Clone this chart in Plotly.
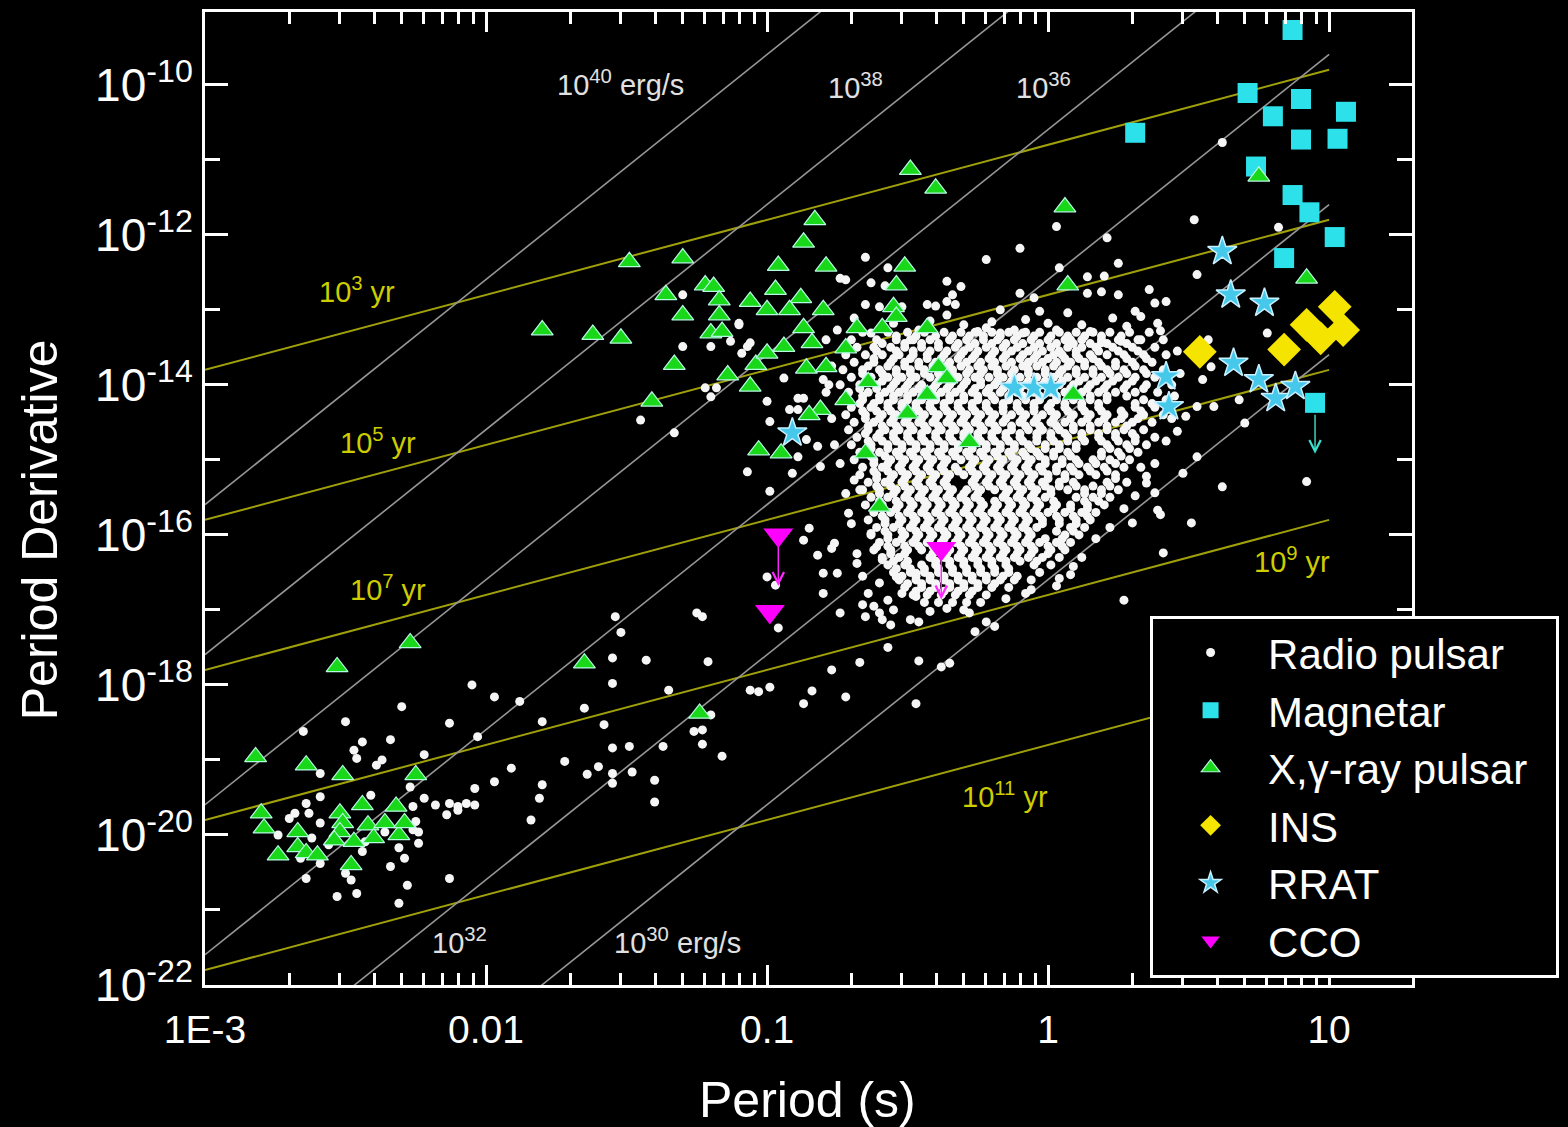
import math
import plotly.graph_objects as go

# ---------------------------------------------------------------------------
# Data: (log10 P [s], log10 Pdot)
# ---------------------------------------------------------------------------

# Radio pulsars - recycled / millisecond population (lower left)
radio_msp = [
    (-1.55, -17.64), (-1.43, -17.67), (-1.55, -17.98), (-2.05, -18.00), (-1.97, -18.16),
    (-1.88, -18.22), (-2.30, -18.29), (-1.65, -18.31), (-2.13, -18.51), (-2.50, -18.49),
    (-1.80, -18.49), (-1.58, -18.53), (-2.65, -18.62), (-2.03, -18.69), (-2.34, -18.73),
    (-2.44, -18.76), (-1.55, -18.84), (-1.49, -18.82), (-2.47, -18.87), (-2.46, -18.98),
    (-2.37, -19.00), (-2.22, -18.93), (-1.72, -19.02), (-2.39, -19.07), (-1.91, -19.11),
    (-1.60, -19.09), (-1.64, -19.19), (-1.55, -19.18), (-1.48, -19.16), (-2.59, -19.18),
    (-1.97, -19.29), (-1.55, -19.31), (-2.04, -19.38), (-1.80, -19.33), (-2.27, -19.36),
    (-2.59, -19.49), (-2.41, -19.47), (-1.81, -19.51), (-2.22, -19.51), (-2.64, -19.58),
    (-2.18, -19.60), (-2.13, -19.58), (-2.10, -19.62), (-2.07, -19.58), (-2.04, -19.60),
    (-2.26, -19.62), (-2.63, -19.71), (-2.68, -19.71), (-2.70, -19.78), (-2.14, -19.73),
    (-2.10, -19.67), (-2.59, -19.84), (-2.74, -20.00), (-2.24, -19.96), (-2.25, -19.82),
    (-1.84, -19.80), (-2.24, -20.11), (-2.44, -20.22), (-2.29, -20.31), (-2.34, -20.42),
    (-2.59, -20.38), (-2.50, -20.51), (-2.48, -20.60), (-2.64, -20.58), (-2.13, -20.58),
    (-2.46, -20.78), (-2.53, -20.82), (-2.28, -20.67), (-2.31, -20.91), (-2.52, -19.93),
    (-2.43, -20.09), (-2.36, -19.96), (-2.31, -20.17), (-2.56, -20.13), (-2.62, -20.04),
    (-2.66, -20.31), (-2.26, -19.93),
]

# Radio pulsars - intermediate / bridge region
radio_mid = [
    (-1.45, -14.47), (-1.54, -17.09), (-1.52, -17.30), (-1.25, -17.04), (-1.23, -17.09),
    (-0.96, -17.24), (-1.21, -17.69), (-1.35, -18.07), (-1.37, -18.82), (-1.40, -19.27),
    (-1.40, -19.56), (-1.20, -18.40), (-1.26, -18.62), (-1.23, -18.60), (-1.23, -18.79),
    (-1.16, -18.95), (-1.06, -18.07), (-1.03, -18.09), (-0.99, -18.03), (-0.87, -18.25),
    (-0.84, -18.08), (-0.77, -17.80), (-0.72, -18.16), (-0.67, -17.70), (-0.57, -17.50),
    (-0.46, -17.68), (-0.47, -18.25), (-0.38, -17.76), (-0.35, -17.71), (-0.74, -17.04),
    (-0.66, -16.93), (-0.65, -17.09), (-0.60, -17.04), (-0.59, -17.13), (-0.56, -17.20),
    (-0.46, -17.16), (-0.26, -17.29), (-0.22, -17.16), (-0.19, -17.22), (-0.30, -17.00),
    (-0.28, -17.04), (0.27, -16.87),
]

# Radio pulsars - scattered normal pulsars around the main cloud
radio_field = [
    (0.92, -15.29), (0.62, -15.36), (0.51, -15.84), (0.41, -16.24), (0.39, -15.67),
    (0.40, -15.73), (0.70, -14.51), (0.53, -14.96), (0.59, -14.29), (0.53, -14.29),
    (0.49, -14.42), (0.55, -13.93), (0.58, -13.76), (0.78, -13.31), (0.57, -13.40),
    (0.46, -14.62), (0.48, -15.18), (0.30, -15.84), (0.38, -15.44), (0.35, -15.31),
    (0.08, -16.53), (0.04, -16.58), (-0.06, -16.73), (0.68, -14.20),
    (0.62, -10.77), (0.52, -11.80), (0.82, -11.90), (0.21, -12.04), (0.25, -12.38),
    (0.03, -11.89), (0.04, -12.44), (0.14, -12.56), (0.20, -12.55), (0.53, -12.53),
    (0.36, -12.73), (0.14, -12.78), (0.19, -12.76), (0.25, -12.80), (0.38, -12.91),
    (0.42, -12.89), (0.07, -13.04), (0.23, -13.11), (0.31, -13.02), (0.33, -13.09),
    (0.39, -13.18), (0.03, -13.27), (0.08, -13.40), (0.15, -13.29), (0.19, -13.44),
    (0.26, -13.42), (0.32, -13.40),
    (-0.10, -12.18), (-0.22, -12.33), (-0.65, -12.30), (-0.74, -12.58), (-0.72, -12.60),
    (-0.63, -12.64), (-0.57, -12.44), (-0.58, -12.68), (-0.36, -12.62), (-0.31, -12.69),
    (-0.34, -12.80), (-0.36, -12.89), (-0.33, -12.93), (-0.43, -12.93), (-0.40, -12.95),
    (-0.65, -12.93), (-0.60, -12.96), (-0.69, -13.11), (-0.52, -12.96), (-0.36, -13.07),
    (-0.10, -12.78), (-0.05, -12.84), (-0.03, -13.02), (-0.17, -13.00), (-0.08, -13.13),
    (-0.30, -13.20), (-0.25, -13.29), (-0.22, -13.24), (-0.17, -13.31), (-0.12, -13.27),
    (-0.09, -13.31), (-1.30, -12.80), (-1.10, -13.18), (-0.75, -13.27), (-0.79, -13.40),
    (-0.49, -13.40), (-0.46, -13.27), (-0.63, -13.31), (-0.35, -13.40), (-1.30, -13.49),
    (-1.20, -13.49), (-1.07, -13.49),
    (-1.10, -13.20), (-1.13, -13.42), (-1.09, -13.58), (-1.06, -13.44), (-1.22, -14.04),
    (-1.20, -14.16), (-1.18, -14.04), (-1.33, -14.64), (-1.00, -14.22), (-0.94, -13.91),
    (-0.99, -14.49), (-0.89, -14.18), (-0.92, -14.33), (-0.89, -14.33), (-0.87, -14.18),
    (-0.80, -13.93), (-0.78, -14.00), (-1.07, -15.16), (-0.99, -15.42), (-0.91, -15.18),
    (-0.89, -14.96), (-0.86, -14.73), (-0.82, -14.82), (-0.81, -15.09), (-0.85, -15.91),
    (-0.87, -16.07), (-0.77, -16.18), (-0.76, -16.11), (-0.82, -16.27), (-0.68, -16.38),
    (-0.80, -16.51), (-0.75, -16.51), (-0.80, -16.78), (-1.00, -16.56), (-0.97, -16.67),
    (-0.69, -15.27), (-0.67, -15.40), (-0.71, -15.71), (-0.63, -15.98), (-0.61, -16.16),
    (-0.59, -16.33), (-0.64, -16.78), (-0.60, -16.64), (-0.57, -16.87), (-0.49, -17.13),
    (-0.47, -16.82), (-0.52, -16.78), (-0.54, -16.56), (-0.47, -16.51),
    # ragged rim of the main cloud
    (0.46, -13.55), (0.47, -13.85), (0.45, -14.15), (0.44, -14.45), (0.42, -14.75),
    (0.38, -15.05), (0.35, -15.22), (0.31, -15.48), (0.27, -15.65), (0.22, -15.90),
    (0.17, -16.05), (0.12, -16.30), (0.09, -16.42), (0.03, -16.68),
    (-0.77, -13.75), (-0.79, -14.10), (-0.77, -14.45), (-0.76, -14.80), (-0.74, -15.05),
    (-0.72, -15.45), (-0.70, -15.85), (-0.68, -16.25), (-0.66, -16.55), (-0.62, -16.95),
    (-0.55, -17.00), (-0.42, -17.02), (-0.36, -16.98), (-0.24, -16.90), (-0.15, -16.85),
    (-0.08, -16.78), (-0.55, -13.18), (-0.42, -13.15), (-0.20, -13.16), (0.00, -13.18),
    (0.12, -13.20), (0.28, -13.22), (0.40, -13.28),
]

# Radio pulsars - dense main cloud, one row per log10 Pdot value
radio_core_rows = [
    (-13.30, [-0.66, -0.57, -0.50, -0.44, -0.37, -0.31, -0.26, -0.20, -0.14, -0.08, -0.03, 0.04, 0.10, 0.16, 0.22, 0.29, 0.36]),
    (-13.35, [-0.54, -0.47, -0.40, -0.34, -0.28, -0.23, -0.17, -0.11, -0.05, 0.01, 0.07, 0.13, 0.19, 0.26]),
    (-13.40, [-0.70, -0.61, -0.54, -0.48, -0.42, -0.35, -0.29, -0.23, -0.18, -0.12, -0.06, 0.00, 0.06, 0.12, 0.19, 0.25, 0.33, 0.41]),
    (-13.45, [-0.59, -0.51, -0.45, -0.39, -0.32, -0.26, -0.20, -0.15, -0.09, -0.03, 0.03, 0.09, 0.15, 0.21, 0.28]),
    (-13.50, [-0.68, -0.62, -0.56, -0.51, -0.45, -0.39, -0.33, -0.28, -0.22, -0.16, -0.11, -0.05, 0.01, 0.07, 0.12, 0.17, 0.23, 0.30, 0.38]),
    (-13.55, [-0.61, -0.54, -0.48, -0.42, -0.36, -0.30, -0.25, -0.19, -0.13, -0.07, -0.02, 0.04, 0.10, 0.18, 0.25, 0.32]),
    (-13.60, [-0.72, -0.65, -0.59, -0.53, -0.48, -0.43, -0.37, -0.31, -0.26, -0.20, -0.15, -0.09, -0.04, 0.02, 0.05, 0.10, 0.15, 0.21, 0.27, 0.34, 0.42]),
    (-13.65, [-0.62, -0.55, -0.49, -0.43, -0.38, -0.32, -0.27, -0.21, -0.16, -0.10, -0.05, 0.00, 0.06, 0.11, 0.16, 0.28, 0.35]),
    (-13.70, [-0.69, -0.62, -0.56, -0.51, -0.46, -0.40, -0.35, -0.29, -0.24, -0.19, -0.13, -0.07, -0.02, 0.03, 0.08, 0.13, 0.18, 0.24, 0.30, 0.37]),
    (-13.75, [-0.64, -0.57, -0.51, -0.46, -0.41, -0.36, -0.31, -0.25, -0.20, -0.15, -0.09, -0.04, 0.02, 0.07, 0.13, 0.19, 0.24, 0.31]),
    (-13.80, [-0.73, -0.66, -0.60, -0.54, -0.49, -0.44, -0.39, -0.34, -0.28, -0.23, -0.18, -0.12, -0.07, -0.01, 0.05, 0.10, 0.16, 0.21, 0.27, 0.34, 0.41]),
    (-13.85, [-0.66, -0.59, -0.54, -0.49, -0.44, -0.39, -0.34, -0.29, -0.24, -0.18, -0.13, -0.07, -0.01, 0.04, 0.10, 0.16, 0.22, 0.28, 0.35]),
    (-13.90, [-0.70, -0.63, -0.57, -0.52, -0.47, -0.42, -0.37, -0.32, -0.26, -0.21, -0.16, -0.10, -0.04, 0.02, 0.07, 0.13, 0.19, 0.25, 0.31, 0.38]),
    (-13.95, [-0.65, -0.59, -0.54, -0.49, -0.39, -0.34, -0.29, -0.24, -0.18, -0.13, -0.07, -0.01, 0.05, 0.11, 0.17, 0.23, 0.30]),
    (-14.00, [-0.74, -0.67, -0.61, -0.55, -0.50, -0.45, -0.40, -0.35, -0.30, -0.24, -0.19, -0.14, -0.08, -0.02, 0.04, 0.09, 0.15, 0.21, 0.28, 0.35, 0.44]),
    (-14.05, [-0.67, -0.61, -0.56, -0.51, -0.46, -0.41, -0.36, -0.31, -0.26, -0.21, -0.16, -0.10, -0.04, 0.02, 0.08, 0.14, 0.20, 0.27, 0.34]),
    (-14.10, [-0.71, -0.64, -0.58, -0.53, -0.48, -0.43, -0.38, -0.33, -0.27, -0.22, -0.17, -0.11, -0.05, 0.01, 0.06, 0.12, 0.18, 0.24, 0.31, 0.39]),
    (-14.15, [-0.66, -0.60, -0.55, -0.50, -0.45, -0.40, -0.35, -0.30, -0.25, -0.20, -0.14, -0.09, -0.03, 0.03, 0.09, 0.15, 0.21, 0.28]),
    (-14.20, [-0.73, -0.66, -0.60, -0.55, -0.50, -0.45, -0.40, -0.35, -0.30, -0.25, -0.19, -0.14, -0.08, -0.03, 0.03, 0.09, 0.15, 0.21, 0.34, 0.42]),
    (-14.25, [-0.67, -0.62, -0.57, -0.52, -0.47, -0.42, -0.37, -0.32, -0.27, -0.22, -0.16, -0.11, -0.05, 0.01, 0.06, 0.12, 0.18, 0.31, 0.37]),
    (-14.30, [-0.70, -0.63, -0.57, -0.52, -0.47, -0.42, -0.37, -0.32, -0.27, -0.22, -0.16, -0.11, -0.05, 0.00, 0.06, 0.12, 0.18, 0.31, 0.38]),
    (-14.35, [-0.66, -0.61, -0.56, -0.51, -0.46, -0.41, -0.36, -0.31, -0.26, -0.21, -0.16, -0.10, -0.05, 0.01, 0.07, 0.13, 0.19, 0.26, 0.33]),
    (-14.40, [-0.72, -0.65, -0.59, -0.54, -0.49, -0.44, -0.39, -0.34, -0.29, -0.24, -0.19, -0.13, -0.08, -0.02, 0.03, 0.09, 0.15, 0.21, 0.27, 0.34, 0.41]),
    (-14.45, [-0.65, -0.60, -0.55, -0.50, -0.45, -0.40, -0.35, -0.30, -0.25, -0.20, -0.15, -0.09, -0.04, 0.02, 0.08, 0.14, 0.20, 0.26, 0.32]),
    (-14.50, [-0.69, -0.62, -0.56, -0.51, -0.46, -0.41, -0.36, -0.31, -0.26, -0.21, -0.16, -0.10, -0.05, 0.01, 0.06, 0.12, 0.18, 0.24, 0.30, 0.37]),
    (-14.55, [-0.64, -0.59, -0.54, -0.49, -0.44, -0.39, -0.34, -0.29, -0.24, -0.19, -0.13, -0.08, -0.03, 0.03, 0.09, 0.15, 0.21, 0.28]),
    (-14.60, [-0.71, -0.64, -0.58, -0.53, -0.48, -0.43, -0.38, -0.33, -0.28, -0.23, -0.18, -0.13, -0.07, -0.02, 0.04, 0.09, 0.15, 0.21, 0.27, 0.34]),
    (-14.65, [-0.65, -0.60, -0.55, -0.50, -0.45, -0.40, -0.35, -0.30, -0.25, -0.20, -0.15, -0.10, -0.04, 0.01, 0.06, 0.12, 0.18, 0.24, 0.30]),
    (-14.70, [-0.68, -0.61, -0.55, -0.50, -0.45, -0.40, -0.35, -0.30, -0.25, -0.20, -0.15, -0.10, -0.04, 0.01, 0.07, 0.12, 0.18, 0.24, 0.31, 0.38]),
    (-14.75, [-0.64, -0.59, -0.54, -0.49, -0.44, -0.39, -0.34, -0.29, -0.24, -0.19, -0.14, -0.09, -0.04, 0.02, 0.07, 0.13, 0.19, 0.25, 0.31]),
    (-14.80, [-0.70, -0.63, -0.57, -0.52, -0.47, -0.42, -0.37, -0.32, -0.27, -0.22, -0.17, -0.12, -0.07, -0.01, 0.04, 0.10, 0.21, 0.28, 0.35]),
    (-14.85, [-0.63, -0.57, -0.52, -0.47, -0.42, -0.37, -0.32, -0.27, -0.22, -0.17, -0.12, -0.06, -0.01, 0.04, 0.10, 0.22, 0.29]),
    (-14.90, [-0.67, -0.60, -0.54, -0.49, -0.44, -0.39, -0.34, -0.29, -0.24, -0.19, -0.14, -0.09, -0.04, 0.02, 0.07, 0.19, 0.25, 0.32]),
    (-14.95, [-0.63, -0.58, -0.53, -0.48, -0.43, -0.38, -0.33, -0.28, -0.23, -0.18, -0.13, -0.08, -0.03, 0.02, 0.08, 0.19, 0.26]),
    (-15.00, [-0.69, -0.62, -0.56, -0.51, -0.46, -0.41, -0.36, -0.31, -0.26, -0.21, -0.16, -0.11, -0.06, -0.01, 0.05, 0.10, 0.16, 0.22, 0.29]),
    (-15.05, [-0.62, -0.57, -0.52, -0.47, -0.42, -0.37, -0.27, -0.22, -0.17, -0.12, -0.07, -0.01, 0.05, 0.11, 0.17, 0.24]),
    (-15.10, [-0.66, -0.59, -0.53, -0.48, -0.43, -0.38, -0.33, -0.28, -0.23, -0.18, -0.13, -0.08, -0.03, 0.03, 0.08, 0.14, 0.20, 0.27, 0.33]),
    (-15.15, [-0.62, -0.57, -0.52, -0.47, -0.42, -0.37, -0.32, -0.27, -0.22, -0.17, -0.12, -0.07, -0.02, 0.03, 0.09, 0.15, 0.21]),
    (-15.20, [-0.67, -0.61, -0.55, -0.50, -0.45, -0.40, -0.35, -0.30, -0.25, -0.20, -0.15, -0.10, -0.05, 0.00, 0.06, 0.11, 0.17, 0.24]),
    (-15.25, [-0.61, -0.56, -0.51, -0.46, -0.41, -0.36, -0.26, -0.21, -0.16, -0.11, -0.06, 0.00, 0.06, 0.24]),
    (-15.30, [-0.64, -0.58, -0.52, -0.47, -0.42, -0.37, -0.27, -0.22, -0.17, -0.12, -0.07, -0.02, 0.04, 0.09, 0.21, 0.28]),
    (-15.35, [-0.61, -0.56, -0.51, -0.46, -0.41, -0.36, -0.26, -0.21, -0.16, -0.11, -0.06, -0.01, 0.04, 0.10, 0.16, 0.22]),
    (-15.40, [-0.66, -0.60, -0.54, -0.49, -0.44, -0.39, -0.34, -0.29, -0.24, -0.19, -0.14, -0.09, -0.04, 0.01, 0.07, 0.13, 0.19, 0.25]),
    (-15.45, [-0.60, -0.55, -0.50, -0.45, -0.40, -0.35, -0.30, -0.25, -0.15, -0.10, -0.05, 0.01, 0.13, 0.19]),
    (-15.50, [-0.63, -0.57, -0.51, -0.46, -0.41, -0.36, -0.31, -0.26, -0.16, -0.11, -0.06, -0.01, 0.10, 0.16, 0.22]),
    (-15.55, [-0.60, -0.54, -0.49, -0.44, -0.39, -0.34, -0.29, -0.24, -0.19, -0.14, -0.09, -0.04, 0.02, 0.13, 0.18]),
    (-15.60, [-0.65, -0.59, -0.53, -0.48, -0.43, -0.38, -0.33, -0.28, -0.23, -0.18, -0.13, -0.08, -0.03, 0.03, 0.08, 0.14, 0.20]),
    (-15.65, [-0.59, -0.54, -0.49, -0.44, -0.39, -0.34, -0.29, -0.24, -0.19, -0.14, -0.09, -0.04, 0.02, 0.08, 0.14]),
    (-15.70, [-0.62, -0.56, -0.50, -0.45, -0.40, -0.35, -0.30, -0.25, -0.20, -0.15, -0.10, -0.05, 0.00, 0.06, 0.12, 0.17]),
    (-15.75, [-0.59, -0.53, -0.48, -0.43, -0.38, -0.33, -0.28, -0.23, -0.18, -0.13, -0.08, -0.03, 0.03, 0.09, 0.14]),
    (-15.80, [-0.64, -0.58, -0.52, -0.47, -0.42, -0.37, -0.32, -0.27, -0.22, -0.17, -0.12, -0.07, -0.02, 0.04, 0.10, 0.15]),
    (-15.85, [-0.58, -0.53, -0.48, -0.43, -0.38, -0.33, -0.28, -0.23, -0.18, -0.13, -0.08, -0.02, 0.04, 0.10]),
    (-15.90, [-0.61, -0.55, -0.49, -0.44, -0.39, -0.34, -0.29, -0.24, -0.19, -0.14, -0.09, -0.04, 0.08, 0.13]),
    (-15.95, [-0.58, -0.52, -0.47, -0.42, -0.37, -0.32, -0.27, -0.22, -0.17, -0.12, -0.07, 0.03, 0.09]),
    (-16.00, [-0.63, -0.57, -0.51, -0.46, -0.41, -0.36, -0.31, -0.26, -0.21, -0.16, -0.11, -0.06, 0.06, 0.11]),
    (-16.05, [-0.57, -0.52, -0.47, -0.42, -0.37, -0.32, -0.27, -0.22, -0.17, -0.12, -0.07, -0.01, 0.05]),
    (-16.10, [-0.60, -0.54, -0.48, -0.43, -0.38, -0.33, -0.28, -0.23, -0.18, -0.13, -0.08, -0.03, 0.03, 0.08]),
    (-16.15, [-0.57, -0.51, -0.46, -0.41, -0.36, -0.31, -0.26, -0.21, -0.16, -0.11, -0.06, 0.00, 0.05]),
    (-16.20, [-0.62, -0.56, -0.50, -0.45, -0.40, -0.35, -0.30, -0.25, -0.20, -0.15, -0.10, -0.05, 0.01, 0.06]),
    (-16.25, [-0.56, -0.51, -0.41, -0.36, -0.31, -0.26, -0.21, -0.16, -0.11, -0.06, 0.00]),
    (-16.30, [-0.59, -0.53, -0.42, -0.37, -0.32, -0.27, -0.22, -0.17, -0.12, -0.07, -0.02, 0.04]),
    (-16.35, [-0.55, -0.50, -0.40, -0.35, -0.30, -0.25, -0.20, -0.15, -0.10, -0.04]),
    (-16.40, [-0.57, -0.51, -0.45, -0.40, -0.35, -0.30, -0.25, -0.20, -0.15, -0.05, 0.01]),
    (-16.45, [-0.54, -0.49, -0.44, -0.39, -0.34, -0.29, -0.24, -0.19, -0.14]),
    (-16.50, [-0.55, -0.49, -0.44, -0.39, -0.34, -0.29, -0.24, -0.19, -0.14, -0.03]),
    (-16.55, [-0.52, -0.47, -0.42, -0.37, -0.32, -0.27, -0.22, -0.16, -0.11]),
    (-16.60, [-0.53, -0.47, -0.42, -0.37, -0.32, -0.27, -0.22, -0.17, -0.12, -0.06]),
    (-16.65, [-0.50, -0.45, -0.40, -0.35, -0.30, -0.25, -0.19]),
    (-16.70, [-0.51, -0.45, -0.40, -0.35, -0.30, -0.25, -0.20, -0.14]),
    (-16.75, [-0.47, -0.42, -0.37, -0.32, -0.27]),
    (-16.80, [-0.48, -0.43, -0.38, -0.33, -0.28, -0.22]),
    (-16.90, [-0.44, -0.39, -0.34, -0.29]),
]

# Magnetars (last one is an upper limit on Pdot)
magnetar_logp = [0.87, 0.71, 0.31, 0.90, 0.80, 1.06, 0.90, 1.03, 0.74, 0.87, 0.93, 1.02, 0.84, 0.95]
magnetar_logpdot = [-9.27, -10.11, -10.64, -10.19, -10.42, -10.36, -10.73, -10.72, -11.09, -11.47,
                    -11.70, -12.03, -12.31, -14.24]
magnetar_limit = [False] * 13 + [True]

# X-ray / gamma-ray pulsars
xray_pulsars = [
    (-1.49, -12.36), (-1.80, -13.27), (-1.62, -13.33), (-1.52, -13.38),
    (-0.49, -11.13), (-0.40, -11.38), (-0.83, -11.80), (-0.87, -12.10), (-1.30, -12.31),
    (-0.96, -12.41), (-0.79, -12.42), (-0.51, -12.42), (-0.54, -12.67), (-1.36, -12.80),
    (-1.22, -12.67), (-1.19, -12.69), (-1.17, -12.87), (-1.06, -12.89), (-0.97, -12.73),
    (-0.88, -12.84), (-0.80, -13.00), (-0.55, -12.96), (-1.30, -13.07), (-1.17, -13.07),
    (-0.92, -13.00), (-1.00, -13.00), (-0.54, -13.09), (-1.20, -13.31), (-1.16, -13.29),
    (-0.87, -13.24), (-0.68, -13.24), (-0.59, -13.24), (-0.43, -13.24), (-0.84, -13.44),
    (-0.72, -13.51), (-1.33, -13.73), (-1.41, -14.22), (-1.14, -13.87), (-1.06, -14.02),
    (-1.04, -13.73), (-1.00, -13.58), (-0.94, -13.49), (-0.86, -13.78), (-0.79, -13.76),
    (-0.81, -14.33), (-0.85, -14.40), (-1.03, -14.87), (-0.95, -14.91), (-0.65, -14.91),
    (-0.60, -15.62), (-0.50, -14.38), (-0.43, -14.13), (-0.39, -13.76), (-0.36, -13.91),
    (-0.28, -14.76), (-0.64, -13.96), (-0.72, -14.20),
    (0.06, -11.63), (0.07, -12.67), (0.09, -14.13), (0.75, -11.22), (0.92, -12.58),
    (-2.53, -17.76), (-2.27, -17.44), (-1.65, -17.71), (-1.24, -18.38),
    (-2.82, -18.96), (-2.64, -19.07), (-2.51, -19.20), (-2.25, -19.20), (-2.80, -19.71),
    (-2.79, -19.91), (-2.67, -19.96), (-2.67, -20.16), (-2.74, -20.27), (-2.64, -20.24),
    (-2.60, -20.27), (-2.52, -19.71), (-2.51, -19.84), (-2.44, -19.60), (-2.52, -19.96),
    (-2.54, -20.07), (-2.47, -20.09), (-2.42, -19.87), (-2.40, -20.04), (-2.36, -19.84),
    (-2.32, -19.62), (-2.31, -20.00), (-2.29, -19.84), (-2.48, -20.40),
]

# Isolated neutron stars
ins_logp = [0.54, 0.84, 0.92, 0.97, 1.02, 1.05]
ins_logpdot = [-13.56, -13.53, -13.20, -13.38, -12.96, -13.27]

# Rotating radio transients
rrat_logp = [0.62, 0.65, 0.77, 0.42, 0.43, 0.66, 0.75, 0.81, 0.88, -0.12, -0.05, 0.01, -0.91]
rrat_logpdot = [-12.22, -12.80, -12.91, -13.89, -14.29, -13.71, -13.93, -14.18, -14.02,
                -14.04, -14.04, -14.04, -14.64]

# Central compact objects (upper limits flagged)
cco_logp = [-0.96, -0.99, -0.38]
cco_logpdot = [-16.00, -17.02, -16.18]
cco_limit = [True, False, True]

# Reference lines: characteristic age (yr) and spin-down luminosity (erg/s)
age_lines_yr = [1e3, 1e5, 1e7, 1e9, 1e11]
edot_lines = [1e30, 1e32, 1e34, 1e36, 1e38, 1e40]
line_periods = [1e-3, 10.0]

SECONDS_PER_YEAR = 3.156e7
MOMENT_OF_INERTIA = 1e45  # g cm^2

# ---------------------------------------------------------------------------
FONT = "Liberation Sans, Arial, sans-serif"
GRAY_LINE = "rgb(150,150,150)"
AGE_LINE = "rgb(160,160,10)"
AGE_TEXT = "rgb(205,205,0)"
NBSP = "\u00a0"


def unlog(values):
    return [10 ** v for v in values]


radio_pairs = list(radio_msp) + list(radio_mid) + list(radio_field)
for lpd, row in radio_core_rows:
    radio_pairs += [(lp, lpd) for lp in row]
radio_logp = [p for p, _ in radio_pairs]
radio_logpdot = [d for _, d in radio_pairs]

fig = go.Figure()

# characteristic-age lines
for tau in age_lines_yr:
    fig.add_trace(go.Scatter(
        x=line_periods,
        y=[p / (2 * tau * SECONDS_PER_YEAR) for p in line_periods],
        mode="lines", line=dict(color=AGE_LINE, width=2),
        showlegend=False, hoverinfo="skip"))

# spin-down luminosity lines
for edot in edot_lines:
    fig.add_trace(go.Scatter(
        x=line_periods,
        y=[edot * p ** 3 / (4 * math.pi ** 2 * MOMENT_OF_INERTIA) for p in line_periods],
        mode="lines", line=dict(color=GRAY_LINE, width=1.6),
        showlegend=False, hoverinfo="skip"))

fig.add_trace(go.Scatter(
    x=unlog(radio_logp), y=unlog(radio_logpdot), mode="markers", name="Radio pulsar",
    marker=dict(symbol="circle", size=9, color="rgb(245,245,245)", line=dict(width=0))))

fig.add_trace(go.Scatter(
    x=unlog(magnetar_logp), y=unlog(magnetar_logpdot), mode="markers", name="Magnetar",
    marker=dict(symbol="square", size=20, color="rgb(45,225,235)", line=dict(width=0))))

fig.add_trace(go.Scatter(
    x=unlog([p for p, _ in xray_pulsars]), y=unlog([d for _, d in xray_pulsars]),
    mode="markers", name="X,γ-ray pulsar" + NBSP * 2,
    marker=dict(symbol="triangle-up", size=19, color="rgb(25,215,25)",
                line=dict(color="rgb(180,250,225)", width=1.2))))

fig.add_trace(go.Scatter(
    x=unlog(ins_logp), y=unlog(ins_logpdot), mode="markers", name="INS",
    marker=dict(symbol="diamond", size=26, color="rgb(245,228,0)", line=dict(width=0))))

fig.add_trace(go.Scatter(
    x=unlog(rrat_logp), y=unlog(rrat_logpdot), mode="markers", name="RRAT",
    marker=dict(symbol="star", size=22, color="rgb(70,200,235)",
                line=dict(color="rgb(200,240,255)", width=1.5))))

fig.add_trace(go.Scatter(
    x=unlog(cco_logp), y=unlog(cco_logpdot), mode="markers", name="CCO",
    marker=dict(symbol="triangle-down", size=26, color="rgb(255,0,255)", line=dict(width=0))))

# downward arrows for Pdot upper limits
annotations = []


def limit_arrow(lp, lpd, color):
    return dict(x=lp, y=lpd - 0.68, ax=lp, ay=lpd - 0.14, xref="x", yref="y",
                axref="x", ayref="y", showarrow=True, arrowhead=5, arrowsize=1.6,
                arrowwidth=1.4, arrowcolor=color, text="")


for lp, lpd, lim in zip(cco_logp, cco_logpdot, cco_limit):
    if lim:
        annotations.append(limit_arrow(lp, lpd, "rgb(255,40,255)"))
for lp, lpd, lim in zip(magnetar_logp, magnetar_logpdot, magnetar_limit):
    if lim:
        annotations.append(limit_arrow(lp, lpd, "rgb(60,225,205)"))

# line labels: (text, log10 P, log10 Pdot, colour)
line_labels = [
    ("10<sup>40</sup> erg/s", -1.52, -9.98, "rgb(225,225,225)"),
    ("10<sup>38</sup>", -0.687, -10.02, "rgb(225,225,225)"),
    ("10<sup>36</sup>", -0.018, -10.02, "rgb(225,225,225)"),
    ("10<sup>32</sup>", -2.093, -21.42, "rgb(225,225,225)"),
    ("10<sup>30</sup> erg/s", -1.32, -21.42, "rgb(225,225,225)"),
    ("10<sup>3</sup> yr", -2.459, -12.74, AGE_TEXT),
    ("10<sup>5</sup> yr", -2.384, -14.75, AGE_TEXT),
    ("10<sup>7</sup> yr", -2.349, -16.71, AGE_TEXT),
    ("10<sup>9</sup> yr", 0.868, -16.34, AGE_TEXT),
    ("10<sup>11</sup> yr", -0.153, -19.47, AGE_TEXT),
]
for text, lp, lpd, color in line_labels:
    annotations.append(dict(x=lp, y=lpd, xref="x", yref="y", text=text, showarrow=False,
                            font=dict(family=FONT, size=29, color=color)))

# axis titles
annotations.append(dict(x=0.499, y=-0.118, xref="paper", yref="paper", text="Period (s)",
                        xanchor="center", yanchor="middle", showarrow=False,
                        font=dict(family=FONT, size=50, color="white")))
annotations.append(dict(x=-0.137, y=0.468, xref="paper", yref="paper", text="Period Derivative",
                        xanchor="center", yanchor="middle", textangle=-90, showarrow=False,
                        font=dict(family=FONT, size=50, color="white")))

x_major = [1e-3, 1e-2, 1e-1, 1.0, 10.0]
x_labels = ["1E-3", "0.01", "0.1", "1", "10"]
x_minor = [k * 10.0 ** e for e in range(-3, 1) for k in range(2, 10)]
y_major = [10.0 ** e for e in range(-22, -9, 2)]
y_labels = ["10<sup>%d</sup>" % e for e in range(-22, -9, 2)]
y_minor = [10.0 ** e for e in range(-21, -9, 2)]

axis_style = dict(showline=True, linecolor="white", linewidth=3, mirror="allticks",
                  ticks="inside", tickcolor="white", tickwidth=3, showgrid=False,
                  zeroline=False)

fig.update_xaxes(type="log", range=[-3, 1.295], tickmode="array", tickvals=x_major,
                 ticktext=x_labels, ticklen=20, ticklabelstandoff=8,
                 tickfont=dict(family=FONT, size=39, color="white"),
                 minor=dict(tickmode="array", tickvals=x_minor, ticks="inside", ticklen=12,
                            tickwidth=2.5, tickcolor="white", showgrid=False),
                 **axis_style)
fig.update_yaxes(type="log", range=[-22, -9.03], tickmode="array", tickvals=y_major,
                 ticktext=y_labels, ticklen=23,
                 tickfont=dict(family=FONT, size=46, color="white"),
                 minor=dict(tickmode="array", tickvals=y_minor, ticks="inside", ticklen=15,
                            tickwidth=2.5, tickcolor="white", showgrid=False),
                 **axis_style)

fig.update_layout(
    width=1568, height=1127,
    margin=dict(l=205, r=156, t=12, b=142, autoexpand=False),
    paper_bgcolor="black", plot_bgcolor="black",
    font=dict(family=FONT, color="white"),
    annotations=annotations,
    hovermode=False,
    legend=dict(x=0.783, y=0.3795, xanchor="left", yanchor="top",
                bgcolor="black", bordercolor="white", borderwidth=3,
                font=dict(family=FONT, size=42, color="white"),
                itemwidth=105, tracegroupgap=0),
)

fig.write_html("out.html")
